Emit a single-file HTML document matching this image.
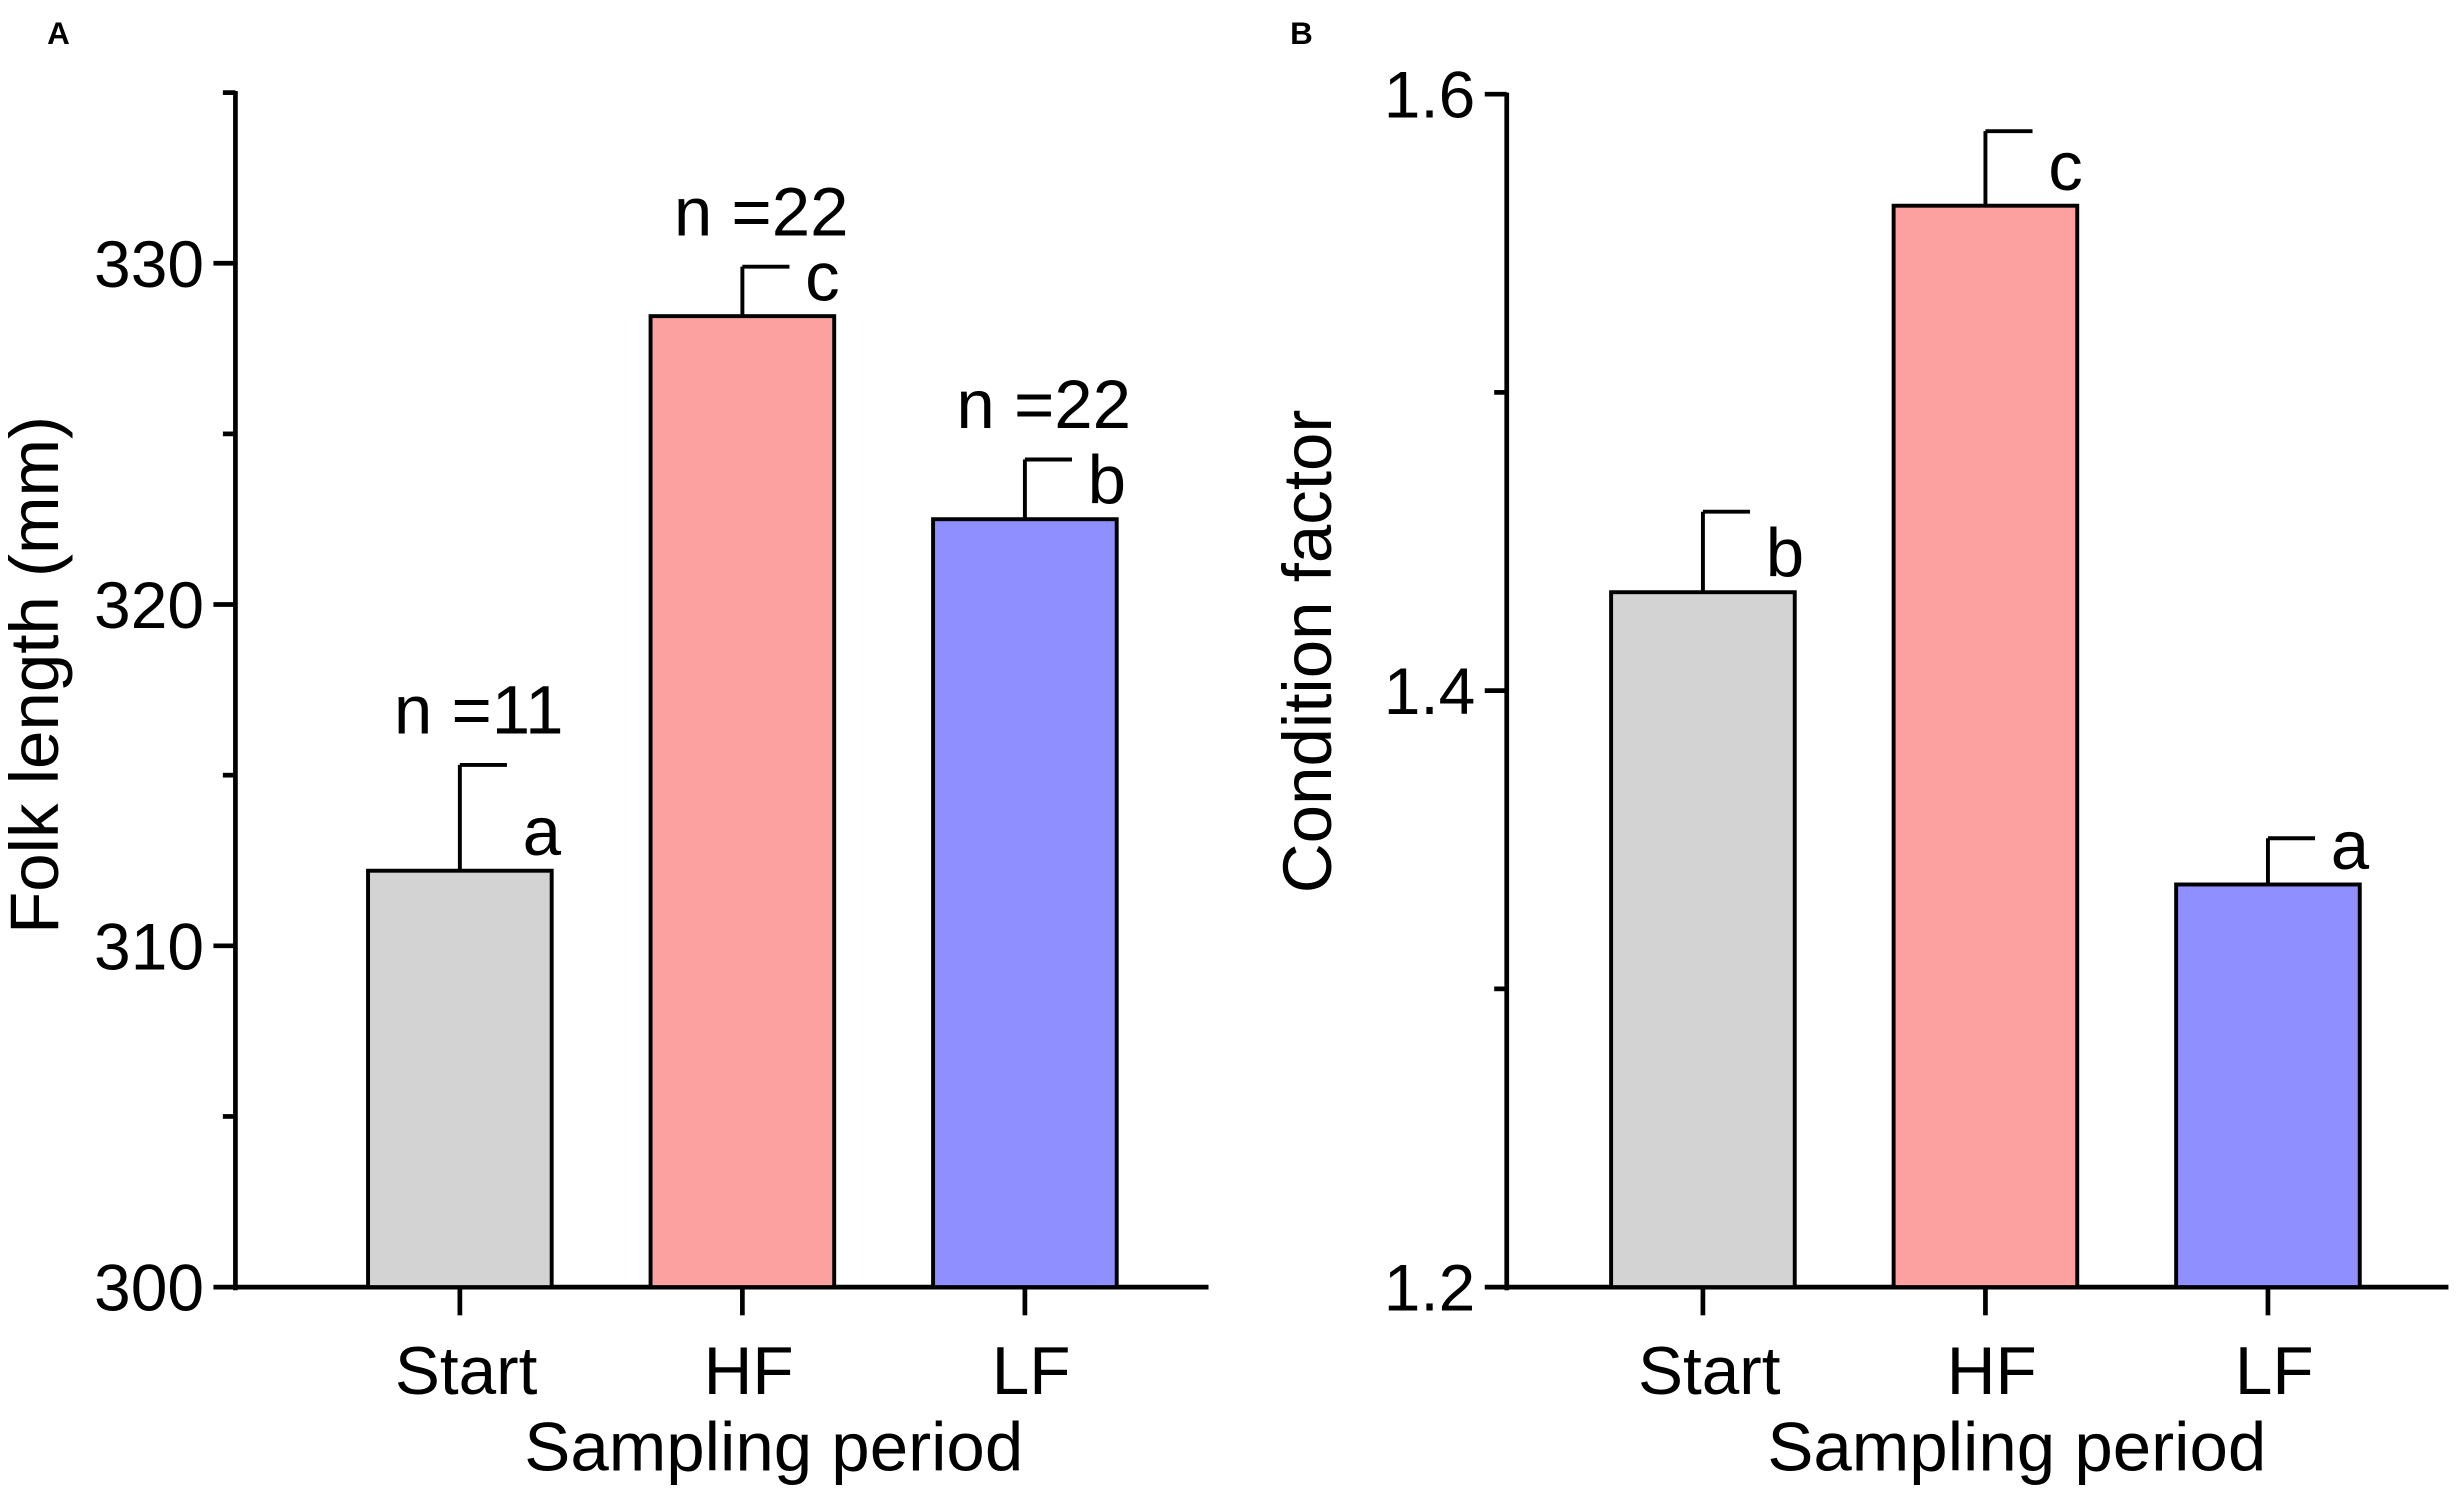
<!DOCTYPE html>
<html><head><meta charset="utf-8"><style>
html,body{margin:0;padding:0;background:#fff;}
svg{display:block;font-family:"Liberation Sans",Arial,sans-serif;}
</style></head><body>
<svg id="chart" width="2461" height="1488" viewBox="0 0 1568 948" preserveAspectRatio="none" xmlns="http://www.w3.org/2000/svg">
<text x="30" y="28" font-size="20" font-weight="bold">A</text>
<text x="822" y="28" font-size="20" font-weight="bold">B</text>
</svg>
<script>
const categories = ["Start","HF","LF"];
const colors = ["#d3d3d3","#fca0a0","#8f8fff"];
const aValues = [312.2, 328.45, 322.5];
const aErrors = [3.1, 1.45, 1.75];
const aLetters = ["a","c","b"];
const aN = ["n =11","n =22","n =22"];
const aTicks = [300,310,320,330];
const aMinor = [305,315,325,335];
const bValues = [1.433, 1.5626, 1.335];
const bErrors = [0.027, 0.025, 0.0155];
const bLetters = ["b","c","a"];
const bTicks = [1.2,1.4,1.6];
const bTickLabels = ["1.2","1.4","1.6"];
const bMinor = [1.3,1.5];

const svg = document.getElementById('chart');
const NS = "http://www.w3.org/2000/svg";
function mk(tag, attrs, parent){const e=document.createElementNS(NS,tag);for(const k in attrs)e.setAttribute(k,attrs[k]);(parent||svg).appendChild(e);return e;}

function panel(cfg){
  const y = v => cfg.y0 - (v - cfg.min) / (cfg.max - cfg.min) * (cfg.y0 - cfg.yTop);
  const g = mk('g',{});
  
  
  const ya = mk('line',{x1:cfg.ax,y1:cfg.yTop-1,x2:cfg.ax,y2:cfg.y0+2,stroke:'#000','stroke-width':3},g);
  
  
  cfg.ticks.forEach((t,i)=>{
    mk('line',{x1:cfg.ax-14,y1:y(t),x2:cfg.ax,y2:y(t),stroke:'#000','stroke-width':3},g);
    const tl = mk('text',{x:cfg.ax-20,y:y(t)+15,'font-size':42,'text-anchor':'end'},g);
    tl.textContent = cfg.tickLabels[i];
    
    
  });
  cfg.minor.forEach(t=>mk('line',{x1:cfg.ax-8,y1:y(t),x2:cfg.ax,y2:y(t),stroke:'#000','stroke-width':3},g));
  const xa = mk('line',{x1:cfg.ax,y1:cfg.y0,x2:cfg.xEnd,y2:cfg.y0,stroke:'#000','stroke-width':3},g);
  
  
  categories.forEach((c,i)=>{
    const cx = cfg.c0 + i*cfg.step;
    const v = cfg.values[i], e = cfg.errors[i];
    const bar = mk('rect',{x:cx-cfg.bw/2,y:y(v),width:cfg.bw,height:cfg.y0-y(v),fill:colors[i],stroke:'#000','stroke-width':2.5},g);
    
    
    mk('line',{x1:cx,y1:y(v),x2:cx,y2:y(v+e),stroke:'#000','stroke-width':2.5},g);
    mk('line',{x1:cx,y1:y(v+e),x2:cx+30,y2:y(v+e),stroke:'#000','stroke-width':2.5},g);
    const lt = mk('text',{x:cx+40,y:y(v)-10,'font-size':44},g);
    lt.textContent = cfg.letters[i];
    
    
    if(cfg.nLabels){
      const nt = mk('text',{x:cx+12,y:y(v+e)-20,'font-size':44,'text-anchor':'middle'},g);
      nt.textContent = cfg.nLabels[i];
      
      
    }
    mk('line',{x1:cx,y1:cfg.y0,x2:cx,y2:cfg.y0+18,stroke:'#000','stroke-width':3},g);
    const xl = mk('text',{x:cx+4,y:cfg.y0+68,'font-size':43,'text-anchor':'middle'},g);
    xl.textContent = c;
    
    
  });
  const xt = mk('text',{x:cfg.xTitleX,y:cfg.y0+117,'font-size':44,'text-anchor':'middle'},g);
  xt.textContent = 'Sampling period';
  
  
  const yt = mk('text',{x:0,y:0,'font-size':44,'text-anchor':'middle',transform:`translate(${cfg.yTitleX},${cfg.yTitleY}) rotate(-90)`},g);
  yt.textContent = cfg.yTitle;
  
  
}

panel({name:'panel-a',ax:150,y0:820,yTop:59,min:300,max:335,ticks:aTicks,tickLabels:aTicks.map(String),minor:aMinor,
  xEnd:770,c0:293,step:180,bw:117,values:aValues,errors:aErrors,letters:aLetters,nLabels:aN,
  xTitleX:493,yTitle:'Folk length (mm)',yTitleX:37,yTitleY:430});
panel({name:'panel-b',ax:960,y0:820,yTop:60,min:1.2,max:1.6,ticks:bTicks,tickLabels:bTickLabels,minor:bMinor,
  xEnd:1560,c0:1085,step:180,bw:117,values:bValues,errors:bErrors,letters:bLetters,nLabels:null,
  xTitleX:1285,yTitle:'Condition factor',yTitleX:848,yTitleY:415});
</script>
</body></html>
